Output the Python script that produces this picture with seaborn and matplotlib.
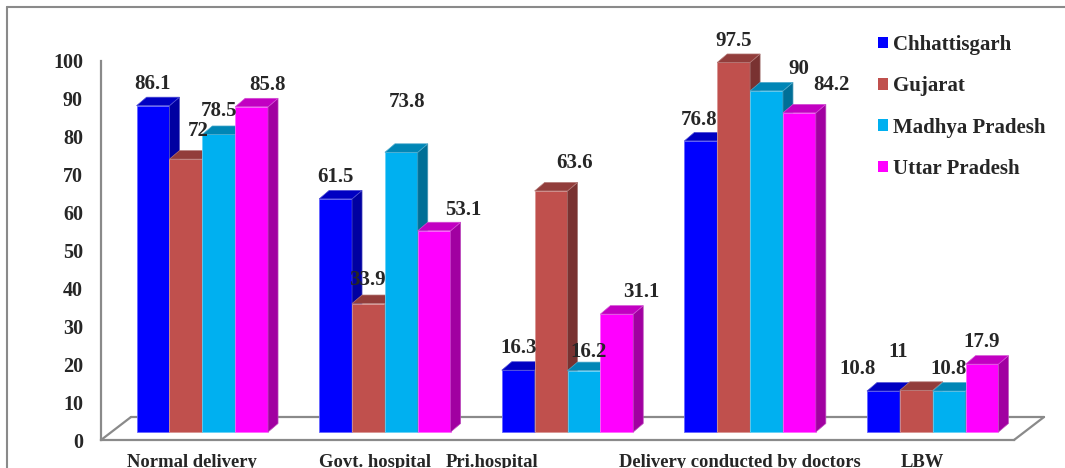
import matplotlib
matplotlib.use("Agg")
import numpy as np
import pandas as pd
import matplotlib.pyplot as plt
import matplotlib.transforms as mtransforms
import matplotlib.colors as mcolors
from matplotlib.patches import Polygon, Patch
from matplotlib.lines import Line2D
import seaborn as sns

# ---- data ----
categories = ["Normal delivery", "Govt. hospital", "Pri.hospital",
              "Delivery conducted by doctors", "LBW"]
states = ["Chhattisgarh", "Gujarat", "Madhya Pradesh", "Uttar Pradesh"]
chhattisgarh = [86.1, 61.5, 16.3, 76.8, 10.8]
gujarat = [72, 33.9, 63.6, 97.5, 11]
madhya_pradesh = [78.5, 73.8, 16.2, 90, 10.8]
uttar_pradesh = [85.8, 53.1, 31.1, 84.2, 17.9]
y_ticks = [0, 10, 20, 30, 40, 50, 60, 70, 80, 90, 100]

series = [chhattisgarh, gujarat, madhya_pradesh, uttar_pradesh]
colors = ["#0000FF", "#C0504D", "#00B0F0", "#FF00FF"]
grey = "#8a8a8a"

df = pd.DataFrame({
    "category": [c for vals in series for c in categories],
    "state": [s for s, vals in zip(states, series) for _ in vals],
    "value": [v for vals in series for v in vals],
})

# ---- style ----
sns.set_style("white")
plt.rcParams["font.family"] = ["Liberation Serif", "DejaVu Serif"]
plt.rcParams["font.weight"] = "bold"

W, H = 1065, 468
fig = plt.figure(figsize=(W / 100, H / 100), dpi=100)
ax = fig.add_axes([101 / W, 28 / H, 913 / W, 379 / H])

sns.barplot(data=df, x="category", y="value", hue="state",
            order=categories, hue_order=states, palette=colors,
            width=0.72, saturation=1, legend=False, ax=ax)

ax.set_xlim(-0.5, len(categories) - 0.5)
ax.set_ylim(0, 100)
ax.set_xlabel("")
ax.set_ylabel("")

# pixel -> data scale factors
o = ax.transData.transform((0, 0))
px_x = ax.transData.transform((1, 0))[0] - o[0]
px_y = ax.transData.transform((0, 1))[1] - o[1]

# bars stand slightly behind the front edge of the floor
lift = mtransforms.ScaledTranslation(10 / 100, 8 / 100, fig.dpi_scale_trans)
bar_trans = ax.transData + lift
depth_x, depth_y = 10 / px_x, 8.5 / px_y


def shade(c, f):
    r, g, b = mcolors.to_rgb(c)
    return (r * f, g * f, b * f)


def tint(c, f):
    r, g, b = mcolors.to_rgb(c)
    return (r + (1 - r) * f, g + (1 - g) * f, b + (1 - b) * f)


# nudges (pixels) for value labels that sit away from their default spot
label_nudge = {
    (0, 1): (12.5, 6.5), (0, 2): (0, 1), (0, 3): (16, 0),
    (1, 1): (-1, 1.5), (1, 2): (6, 28), (1, 3): (29, -1),
    (2, 1): (23.5, 5.5), (2, 2): (5, -3), (2, 3): (25, 0),
    (3, 0): (-1.5, -1), (3, 1): (0, -1), (3, 2): (32, 0), (3, 3): (32.5, 6),
    (4, 0): (-25.5, 0), (4, 1): (-18.5, 16), (4, 2): (-1, 0),
}

for j, cont in enumerate(ax.containers):
    col = colors[j]
    for i, rect in enumerate(cont):
        x0, w, h = rect.get_x(), rect.get_width(), rect.get_height()
        z = 3 + j * 0.01
        rect.set_transform(bar_trans)
        rect.set_zorder(z)
        rect.set_edgecolor(tint(col, 0.4))
        rect.set_linewidth(0.6)
        rect.set_clip_on(False)
        side = Polygon([(x0 + w, 0), (x0 + w + depth_x, depth_y),
                        (x0 + w + depth_x, h + depth_y), (x0 + w, h)],
                       closed=True, facecolor=shade(col, 0.63),
                       edgecolor=tint(shade(col, 0.63), 0.3), linewidth=0.5,
                       transform=bar_trans, zorder=z + 0.001, clip_on=False)
        top = Polygon([(x0, h), (x0 + w, h), (x0 + w + depth_x, h + depth_y),
                       (x0 + depth_x, h + depth_y)],
                      closed=True, facecolor=shade(col, 0.76),
                      edgecolor=tint(shade(col, 0.76), 0.3), linewidth=0.5,
                      transform=bar_trans, zorder=z + 0.002, clip_on=False)
        ax.add_patch(side)
        ax.add_patch(top)
        ndx, ndy = label_nudge.get((i, j), (0, 0))
        ax.annotate(f"{h:g}", xy=(x0 + w / 2, h), xycoords=bar_trans,
                    xytext=(ndx, 22 + ndy), textcoords="offset pixels",
                    ha="center", va="center", fontsize=15, fontweight="bold",
                    annotation_clip=False, zorder=10)

# floor of the 3-D plot
fdx, fdy = 30 / px_x, 23 / px_y
x_lo, x_hi = -0.5, len(categories) - 0.5
for xs, ys in [([x_lo, x_lo + fdx], [0, fdy]),
               ([x_lo + fdx, x_hi + fdx], [fdy, fdy]),
               ([x_hi, x_hi + fdx], [0, fdy])]:
    ax.add_line(Line2D(xs, ys, color=grey, lw=1.6, zorder=1, clip_on=False))

# axes
for s in ["top", "right"]:
    ax.spines[s].set_visible(False)
for s in ["left", "bottom"]:
    ax.spines[s].set_color(grey)
    ax.spines[s].set_linewidth(1.6)
ax.set_yticks(y_ticks)
ax.set_xticks(np.arange(x_lo, x_hi + 0.01, 1.0), labels=[])
ax.tick_params(axis="both", direction="out", length=3, width=1.2, color=grey)
ax.tick_params(axis="y", labelsize=14.5, pad=10)
for t in ax.get_yticklabels():
    t.set_fontweight("bold")

# category names under the floor
cat_shift = {2: -66}
for i, cat in enumerate(categories):
    ax.annotate(cat, xy=(i, 0), xycoords="data",
                xytext=(cat_shift.get(i, 0), -14), textcoords="offset pixels",
                ha="center", va="top", fontsize=13.4, fontweight="bold",
                annotation_clip=False)

# legend
handles = [Patch(facecolor=c, edgecolor="none") for c in colors]
fig.legend(handles, states, loc="upper left",
           bbox_to_anchor=(878 / W, 1 - 35 / H), frameon=False,
           prop={"family": ["Liberation Serif"], "weight": "bold", "size": 15},
           handlelength=0.48, handleheight=0.48, handletextpad=0.24,
           labelspacing=1.02, borderpad=0, borderaxespad=0)

# outer frame (top and left edges visible)
fig.add_artist(Line2D([7 / W, 1.0], [1 - 7 / H, 1 - 7 / H],
                      transform=fig.transFigure, color=grey, lw=1.5))
fig.add_artist(Line2D([7 / W, 7 / W], [0, 1 - 7 / H],
                      transform=fig.transFigure, color=grey, lw=1.5))

fig.savefig("out.png", dpi=100)
